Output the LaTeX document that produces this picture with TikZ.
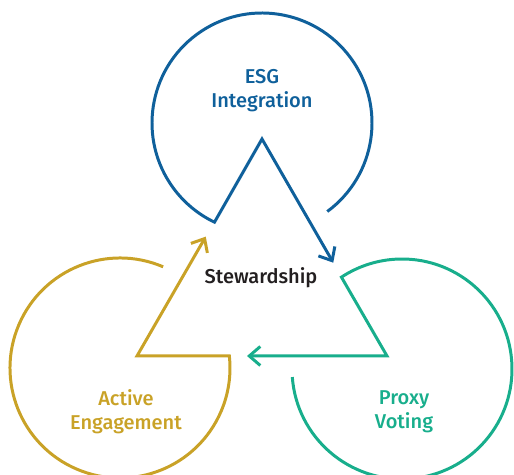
\documentclass[tikz,border=0pt]{standalone}
\usepackage{fontspec}
\setmainfont{Fira Sans}[UprightFont={* Medium}]
\usepackage{tikz}
\usetikzlibrary{arrows.meta, calc}

\definecolor{esgblue}{RGB}{15,96,155}
\definecolor{proxygreen}{RGB}{24,174,140}
\definecolor{activegold}{RGB}{201,162,39}
\definecolor{stewtext}{RGB}{35,31,32}

\begin{document}
\begin{tikzpicture}[x=0.02cm, y=0.02cm,
    loop/.style={line width=1.7pt, line join=miter},
    >={Straight Barb[length=2.2mm, width=3.8mm, line width=1.7pt]},
    label/.style={align=center, font=\fontsize{11.4}{13.8}\selectfont}]
            \useasboundingbox (0,0) rectangle (514,475);

            % Triangle corners and arrow ends
            \coordinate (top) at (262,336);
            \coordinate (right) at (387,119);
            \coordinate (left) at (137,119);
            \coordinate (esgtip) at ($(top)!0.57!(right)$);
            \coordinate (proxytip) at ($(right)!0.56!(left)$);
            \coordinate (activetip) at ($(left)!0.55!(top)$);

            % Circle centres
            \coordinate (esg) at (262,352);
            \coordinate (proxy) at (402,106);
            \coordinate (active) at (120,107);

            % ESG Integration loop
            \draw[loop, esgblue, ->] (esg) ++(-53.6:110)
                arc[start angle=-53.6, end angle=244.4, radius=110]
                -- (top) -- (esgtip);
            \node[label, esgblue] (esglabel) at (262,384) {ESG\\Integration};

            % Proxy Voting loop
            \draw[loop, proxygreen, ->] (proxy) ++(184.2:110)
                arc[start angle=184.2, end angle=483.4, radius=110]
                -- (right) -- (proxytip);
            \node[label, proxygreen] (proxylabel) at (404,63) {Proxy\\Voting};

            % Active Engagement loop
            \draw[loop, activegold, ->] (active) ++(66.9:110)
                arc[start angle=66.9, end angle=366.3, radius=110]
                -- (left) -- (activetip);
            \node[label, activegold] (activelabel) at (126,63) {Active\\Engagement};

            % Centre
            \node[label, stewtext] (stewardship) at (261,197) {Stewardship};
        \end{tikzpicture}
\end{document}
